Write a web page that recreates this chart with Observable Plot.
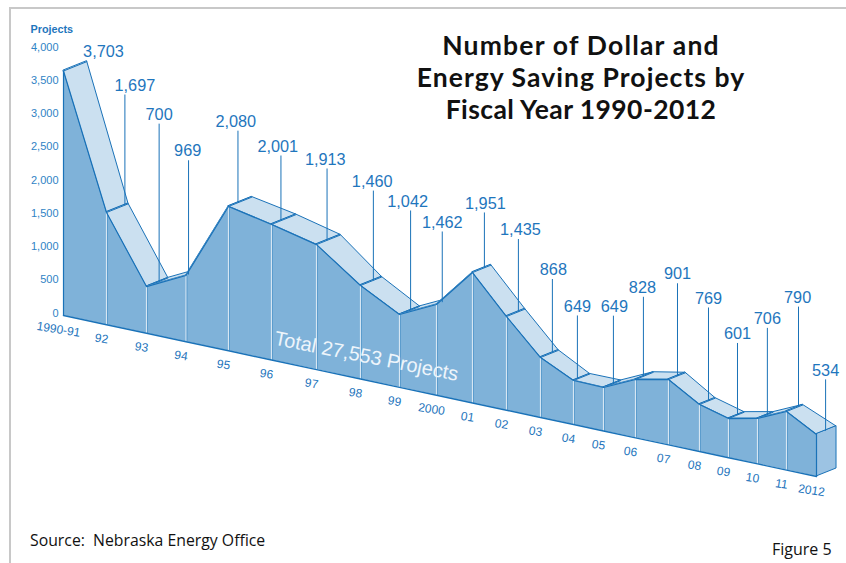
<!DOCTYPE html>
<html><head><meta charset="utf-8">
<script src="https://cdn.jsdelivr.net/npm/d3@7"></script>
<script src="https://cdn.jsdelivr.net/npm/@observablehq/plot@0.6"></script>
<style>
html,body{margin:0;padding:0;background:#fff;overflow:hidden}
#wrap{position:relative;width:846px;height:563px}
#frame{position:absolute;left:9px;top:7px;right:-4px;bottom:-4px;border:2px solid #c8c8c8}
.t{position:absolute;white-space:nowrap;color:#111;font-family:"Open Sans",sans-serif}
#title{left:381px;top:29px;width:400px;text-align:center;font-size:26.5px;line-height:32px;font-weight:700;font-family:"Lato",sans-serif}
#source{left:30px;top:529px;font-size:15.8px}
#figure{left:772px;top:538px;font-size:16px}
#chart{position:absolute;left:0;top:0}
</style></head>
<body><div id="wrap">
<div id="frame"></div>
<div id="chart"></div>
<div class="t" id="title"><span style="letter-spacing:1.2px">Number of Dollar and</span><br><span style="letter-spacing:1.05px">Energy Saving Projects by</span><br><span style="letter-spacing:.42px">Fiscal Year 1990-2012</span></div>
<div class="t" id="source">Source:&nbsp; Nebraska Energy Office</div>
<div class="t" id="figure">Figure 5</div>
</div>
<script>
// ---- data ----
const years = ["1990-91","92","93","94","95","96","97","98","99","2000","01","02","03","04","05","06","07","08","09","10","11","2012"];
// the figures printed above each year
const projects = [3703,1697,700,969,2080,2001,1913,1460,1042,1462,1951,1435,868,649,649,828,901,769,601,706,790,534];
// the profile as the artwork draws it, read against the y axis (it departs a little from the printed figures)
const drawnProfile = [3677,1687,702,995,2170,2038,1880,1406,1095,1365,1961,1409,902,662,654,877,982,707,589,683,881,632];
const yTicks = [0,500,1000,1500,2000,2500,3000,3500,4000];
const totalLabel = "Total 27,553 Projects";

// ---- annotation placement (in scale units, relative to each year) ----
const leaderLean = [.55,.46,.32,.06,.22,.21,.24,.33,.30,.16,.35,.35,.36,.13,.31,.24,.29,.31,.31,.34,.40,.25];
const leaderRise = [15,1664,2374,1718,1083,980,1081,1350,1498,1063,832,1094,1109,955,1020,1196,1394,1404,1082,1303,1505,774];
const labelShift = [.38,.25,0,-.02,-.05,-.07,-.04,-.03,-.08,0,.03,.06,.03,0,.03,-.03,0,0,0,0,-.03,0];

// ---- oblique projection: the x scale narrows to the right, the baseline falls with x ----
const perspective = [63,106,146,185.5,228,271,316,360,399,436,472,506,540,573,603,635,668,699,728,757,786,816,852.4];
const depth = 0.55;           // depth of the extrusion, in year slots
const fall = 3.215;           // baseline fall, in projects per x pixel
const lift = 6.015;           // back edge lift, in projects per x pixel of depth
const xp = d3.scaleLinear(d3.range(perspective.length), perspective);
const baseAt = i => -fall * (xp(i) - xp(0));
const backLift = i => lift * (xp(i + depth) - xp(i));
const frontAt = (i, v) => baseAt(i) + v;
const backAt = (i, v) => baseAt(i) + v + backLift(i);

const rows = years.map((year, i) => ({year, i, v: projects[i], base: baseAt(i), front: frontAt(i, drawnProfile[i]),
  iBack: i + depth, back: backAt(i, drawnProfile[i]), baseBack: backAt(i, 0)}));

const segments = d3.range(rows.length - 1).flatMap(s => [
  {...rows[s], s}, {...rows[s + 1], s}
]);

const leaders = rows.map(r => {
  const t = leaderLean[r.i] / depth;
  const seam = r.front + (r.back - r.front) * t;
  return {...r, lx: r.i + leaderLean[r.i], seam, topY: seam + leaderRise[r.i],
          tx: r.i + leaderLean[r.i] + labelShift[r.i]};
});

const last = rows[rows.length - 1];
const sideFace = [
  {x1: last.i, y1: last.front, x2: last.iBack, y2: last.back},
  {x1: last.i, y1: last.base, x2: last.iBack, y2: last.baseBack}
];

const blue = "#1a72b8", label = "#1f76bd", axisBlue = "#2f83c5";
const font = "'Liberation Sans', Arial, sans-serif";

const plot = Plot.plot({
  width: 846, height: 563,
  marginLeft: 63, marginTop: 0, marginBottom: 0, marginRight: 0,
  style: {background: "transparent", fontFamily: font},
  x: {type: "linear", domain: d3.range(perspective.length), range: perspective, axis: null},
  y: {type: "linear", domain: [-3729, 4737], axis: null},
  marks: [
    // top surface, painted left to right
    Plot.area(segments, {x1: "i", y1: "front", x2: "iBack", y2: "back", z: "s", fill: "#cbe0f0", stroke: blue, strokeWidth: 1, curve: "linear"}),
    // seams across the top surface
    Plot.link(rows.slice(0, -1), {x1: "i", y1: "front", x2: "iBack", y2: "back", stroke: blue, strokeWidth: 1}),
    // right end face
    Plot.area(sideFace, {x1: "x1", y1: "y1", x2: "x2", y2: "y2", fill: "#9cc3e3", stroke: blue, strokeWidth: 1}),
    // front face
    Plot.area(rows, {x1: "i", y1: "base", y2: "front", fill: "#7fb2d9"}),
    Plot.link(rows.slice(1, -1), {x1: "i", x2: "i", y1: "base", y2: "front", stroke: "#d6e6f3", strokeWidth: 1.2}),
    Plot.link(rows.slice(1, -1), {x1: "i", x2: "i", y1: "base", y2: "front", stroke: blue, strokeOpacity: 0.5, strokeWidth: 0.8, dx: 1}),
    Plot.link([rows[0], last], {x1: "i", x2: "i", y1: "base", y2: "front", stroke: blue, strokeWidth: 1.2}),
    Plot.line(rows, {x: "i", y: "front", stroke: blue, strokeWidth: 1.2}),
    Plot.line(rows, {x: "i", y: "base", stroke: blue, strokeWidth: 1.4}),
    // leaders and value labels
    Plot.link(leaders.filter(d => d.i > 0), {x1: "lx", x2: "lx", y1: "seam", y2: "topY", stroke: blue, strokeWidth: 1}),
    Plot.text(leaders, {x: "tx", y: "topY", text: d => d3.format(",")(d.v), fill: label, fontSize: 16.3, dy: -9, textAnchor: "middle"}),
    // year labels along the baseline
    Plot.text(rows, {x: "i", y: "base", text: "year", fill: label, fontSize: 12, rotate: 9, dx: -5, dy: 14, textAnchor: "middle"}),
    // total across the front face
    Plot.text([totalLabel], {x: () => 7.15, y: () => baseAt(7.15) + 358, text: d => d, fill: "#eef5fb", fontSize: 20, rotate: 11.2, textAnchor: "middle"}),
    // y axis
    Plot.axisY(yTicks, {anchor: "left", tickSize: 0, tickPadding: 5, dy: -2.5, tickFormat: d3.format(","), fill: axisBlue, fontSize: 11, label: null}),
    Plot.text(["Projects"], {x: () => 0, y: () => 4300, text: d => d, dx: -33, textAnchor: "start", fill: label, fontSize: 10.8, fontWeight: "bold"})
  ]
});
plot.style.overflow = "visible";
document.getElementById("chart").appendChild(plot);
</script>
</body></html>
